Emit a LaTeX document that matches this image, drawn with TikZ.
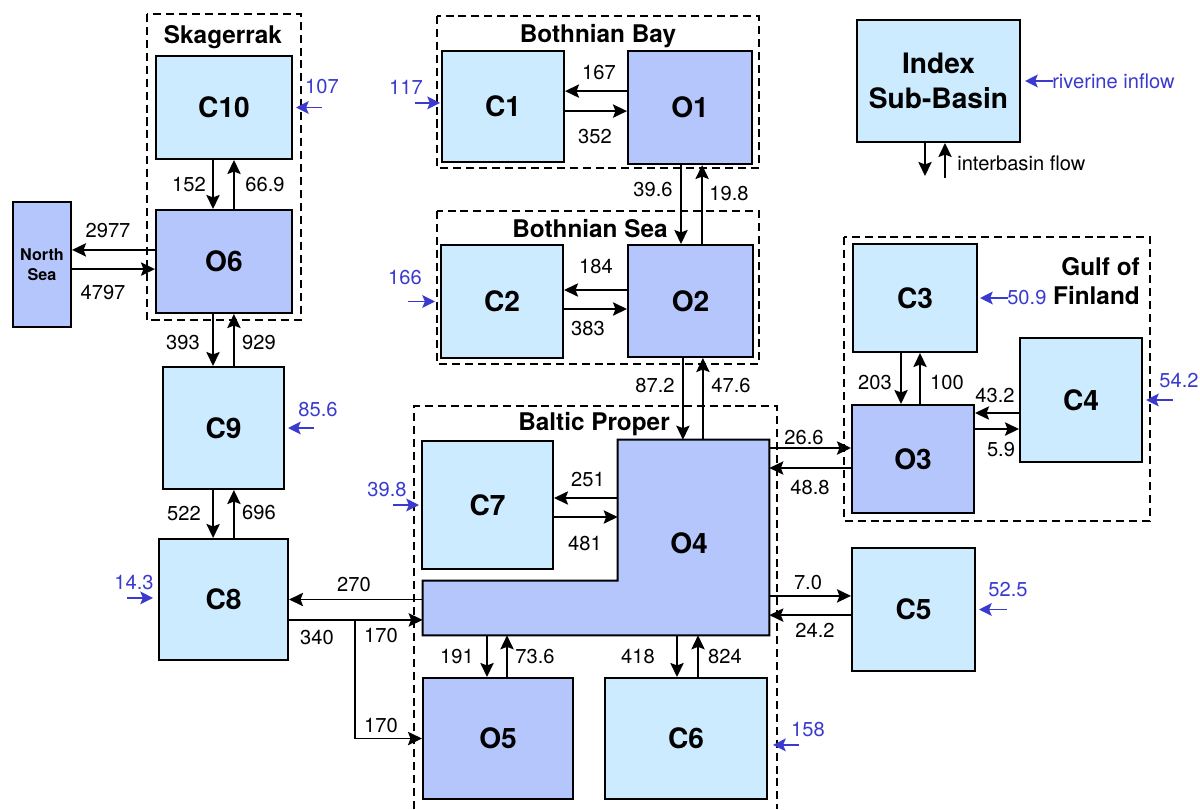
\documentclass[tikz,border=0pt]{standalone}
\usepackage{fontspec}
\setmainfont{TeX Gyre Heros}
\usetikzlibrary{arrows.meta}

\definecolor{coastfill}{RGB}{204,235,254}
\definecolor{offfill}{RGB}{180,198,252}
\definecolor{riverblue}{RGB}{58,58,208}

\begin{document}
\begin{tikzpicture}[
  x=0.025cm, y=-0.025cm,
  coastal/.style={rectangle, draw, line width=1.4pt, fill=coastfill, inner sep=0pt, align=center, font=\fontsize{20}{25}\selectfont\bfseries},
  offshore/.style={coastal, fill=offfill},
  ghost/.style={rectangle, inner sep=0pt},
  area/.style={draw, line width=1.3pt, dash pattern=on 5.7pt off 3.5pt},
  areatitle/.style={font=\fontsize{17.3}{20.6}\selectfont\bfseries, inner sep=0pt},
  flow/.style={-{Stealth[length=10pt,width=9.5pt,inset=1.8pt]}, line width=1.2pt},
  inflow/.style={-{Stealth[length=9pt,width=9pt,inset=1.8pt]}, line width=1.4pt, draw=riverblue},
  flowlabel/.style={font=\fontsize{14.3}{17}\selectfont, inner sep=0pt, text height=10pt, text depth=0pt},
  riverlabel/.style={flowlabel, text=riverblue}
]
  \useasboundingbox (0,0) rectangle (1200,809);

  % Dashed sub-basin groups
  \draw[area] (147,14) rectangle (301,320);
  \draw[area] (437,16) rectangle (759,168);
  \draw[area] (437,211) rectangle (759,364);
  \draw[area] (844,237) rectangle (1150,521);
  \draw[area] (414,809) |- (777,406) -- (777,809);

  \node[areatitle, anchor=base] (tSkag) at (223,43) {Skagerrak};
  \node[areatitle, anchor=base] (tBay) at (598,42) {Bothnian Bay};
  \node[areatitle, anchor=base] (tSea) at (590,237) {Bothnian Sea};
  \node[areatitle, anchor=base] (tBP) at (594,430) {Baltic Proper};
  \node[areatitle, align=right, anchor=north east] (tGoF) at (1140,257) {Gulf of\\Finland};

  % Skagerrak and Kattegat chain -- left column
  \node[coastal, minimum width=3.4cm, minimum height=2.575cm] (C10) at (224,107.5) {C10};
  \node[offshore, minimum width=3.4cm, minimum height=2.575cm] (O6) at (224,261.5) {O6};
  \node[offshore, font=\fontsize{11.5}{14.2}\selectfont\bfseries, minimum width=1.45cm, minimum height=3.125cm] (NS) at (42,264.5) {North\\Sea};
  \node[coastal, minimum width=3.025cm, minimum height=3.05cm] (C9) at (223.5,428) {C9};
  \node[coastal, minimum width=3.225cm, minimum height=3.025cm] (C8) at (223.5,599.5) {C8};

  % Bothnian Bay and Bothnian Sea
  \node[coastal, minimum width=3.05cm, minimum height=2.775cm] (C1) at (503,106.5) {C1};
  \node[offshore, minimum width=3.1cm, minimum height=2.825cm] (O1) at (690,107.5) {O1};
  \node[coastal, minimum width=3.05cm, minimum height=2.825cm] (C2) at (502,301.5) {C2};
  \node[offshore, minimum width=3.125cm, minimum height=2.8cm] (O2) at (690.5,301) {O2};

  % Legend
  \node[coastal, minimum width=4.075cm, minimum height=3.05cm] (Index) at (938.5,81) {Index\\Sub-Basin};
  \coordinate (legout) at (925,176);
  \coordinate (legin) at (945,178);

  % Gulf of Finland and C5
  \node[coastal, minimum width=3.1cm, minimum height=2.7cm] (C3) at (915,298) {C3};
  \node[offshore, minimum width=3.05cm, minimum height=2.7cm] (O3) at (913,459) {O3};
  \node[coastal, minimum width=3.05cm, minimum height=3.1cm] (C4) at (1081,400) {C4};
  \node[coastal, minimum width=3.075cm, minimum height=3.075cm] (C5) at (913.5,609.5) {C5};

  % Baltic Proper -- O4 is L-shaped
  \node[coastal, minimum width=3.275cm, minimum height=3.2cm] (C7) at (487.5,505) {C7};
  \node[offshore, minimum width=3.75cm, minimum height=3.025cm] (O5) at (498,738.5) {O5};
  \node[coastal, minimum width=4.05cm, minimum height=3.025cm] (C6) at (686,738.5) {C6};
  \node[ghost, minimum width=3.775cm, minimum height=4.875cm] (O4) at (693.5,537.5) {};
  \node[ghost, minimum width=8.65cm, minimum height=1.35cm] (O4bar) at (596,608) {};
  \filldraw[line width=1.4pt, fill=offfill] (O4.north west) -- (O4.north east) -- (O4bar.south east) -- (O4bar.south west) -- (O4bar.north west) -- (O4bar.north west -| O4.west) -- cycle;
  \node[font=\fontsize{20}{25}\selectfont\bfseries, inner sep=0pt] (O4name) at (689,543) {O4};

  % Interbasin flows, left column
  \draw[flow] ([xshift=-0.275cm]C10.south) -- ([xshift=-0.275cm]C10.south |- O6.north);
  \draw[flow] ([xshift=0.25cm]O6.north) -- ([xshift=0.25cm]O6.north |- C10.south);
  \draw[flow] ([yshift=0.29cm]O6.west) -- ([yshift=0.29cm]O6.west -| NS.east);
  \draw[flow] ([yshift=-0.19cm]O6.west -| NS.east) -- ([yshift=-0.19cm]O6.west);
  \draw[flow] ([xshift=-0.275cm]O6.south) -- ([xshift=-0.275cm]O6.south |- C9.north);
  \draw[flow] ([xshift=0.26cm]C9.north) -- ([xshift=0.26cm]C9.north |- O6.south);
  \draw[flow] ([xshift=-0.26cm]C9.south) -- ([xshift=-0.26cm]C9.south |- C8.north);
  \draw[flow] ([xshift=0.26cm]C8.north) -- ([xshift=0.26cm]C8.north |- C9.south);

  % Interbasin flows, Bothnian Bay / Sea
  \draw[flow] ([yshift=0.41cm]O1.west) -- ([yshift=0.41cm]O1.west -| C1.east);
  \draw[flow] ([yshift=-0.09cm]O1.west -| C1.east) -- ([yshift=-0.09cm]O1.west);
  \draw[flow] ([xshift=-0.225cm]O1.south) -- ([xshift=-0.225cm]O1.south |- O2.north);
  \draw[flow] ([xshift=0.29cm]O2.north) -- ([xshift=0.29cm]O2.north |- O1.south);
  \draw[flow] ([yshift=0.275cm]O2.west) -- ([yshift=0.275cm]O2.west -| C2.east);
  \draw[flow] ([yshift=-0.2cm]O2.west -| C2.east) -- ([yshift=-0.2cm]O2.west);
  \draw[flow] ([xshift=-0.19cm]O2.south) -- ([xshift=-0.19cm]O2.south |- O4.north);
  \draw[flow] ([xshift=0.31cm]O2.south |- O4.north) -- ([xshift=0.31cm]O2.south);

  % Interbasin flows, Baltic Proper
  \draw[flow] ([yshift=0.175cm]C7.east -| O4.west) -- ([yshift=0.175cm]C7.east);
  \draw[flow] ([yshift=-0.3cm]C7.east) -- ([yshift=-0.3cm]C7.east -| O4.west);
  \draw[flow] (C8.east -| O4bar.west) -- (C8.east);
  \draw[flow] ([yshift=-0.51cm]C8.east) -- ([yshift=-0.51cm]C8.east -| O4bar.west);
  \draw[flow] ([xshift=1.65cm, yshift=-0.51cm]C8.east) |- (O5.west);
  \draw[flow] ([xshift=-0.275cm]O5.north |- O4bar.south) -- ([xshift=-0.275cm]O5.north);
  \draw[flow] ([xshift=0.225cm]O5.north) -- ([xshift=0.225cm]O5.north |- O4bar.south);
  \draw[flow] ([xshift=-0.225cm]C6.north |- O4bar.south) -- ([xshift=-0.225cm]C6.north);
  \draw[flow] ([xshift=0.3cm]C6.north) -- ([xshift=0.3cm]C6.north |- O4bar.south);

  % Interbasin flows, Gulf of Finland and C5
  \draw[flow] ([yshift=0.275cm]O3.west -| O4.east) -- ([yshift=0.275cm]O3.west);
  \draw[flow] ([yshift=-0.225cm]O3.west) -- ([yshift=-0.225cm]O3.west -| O4.east);
  \draw[flow] ([xshift=-0.3cm]O3.north |- C3.south) -- ([xshift=-0.3cm]O3.north);
  \draw[flow] ([xshift=0.175cm]O3.north) -- ([xshift=0.175cm]O3.north |- C3.south);
  \draw[flow] ([yshift=-0.325cm]C4.west) -- ([yshift=-0.325cm]C4.west -| O3.east);
  \draw[flow] ([yshift=-0.725cm]C4.west -| O3.east) -- ([yshift=-0.725cm]C4.west);
  \draw[flow] ([yshift=0.34cm]C5.west -| O4.east) -- ([yshift=0.34cm]C5.west);
  \draw[flow] ([yshift=-0.14cm]C5.west) -- ([yshift=-0.14cm]C5.west -| O4.east);

  % Legend arrows
  \draw[flow] (Index.south -| legout) -- (legout);
  \draw[flow] (legin) -- (legin |- Index.south);

  % Riverine inflows
  \draw[inflow] ([xshift=0.725cm]C10.east) -- ([xshift=0.075cm]C10.east);
  \draw[inflow] ([xshift=-0.65cm,yshift=0.09cm]C1.west) -- ([xshift=-0.025cm,yshift=0.09cm]C1.west);
  \draw[inflow] ([xshift=-0.8cm]C2.west) -- ([xshift=-0.125cm]C2.west);
  \draw[inflow] ([xshift=0.725cm]C9.east) -- ([xshift=0.075cm]C9.east);
  \draw[inflow] ([xshift=-0.775cm,yshift=0.04cm]C8.west) -- ([xshift=-0.125cm,yshift=0.04cm]C8.west);
  \draw[inflow] ([xshift=-0.7cm]C7.west) -- ([xshift=-0.05cm]C7.west);
  \draw[inflow] ([xshift=0.775cm,yshift=-0.16cm]C6.east) -- ([xshift=0.125cm,yshift=-0.16cm]C6.east);
  \draw[inflow] ([xshift=0.775cm]C5.east) -- ([xshift=0.075cm]C5.east);
  \draw[inflow] ([xshift=0.75cm]C3.east) -- ([xshift=0.05cm]C3.east);
  \draw[inflow] ([xshift=0.75cm]C4.east) -- ([xshift=0.075cm]C4.east);
  \draw[inflow] ([xshift=0.8cm]Index.east) -- ([xshift=0.1cm]Index.east);

  % Inflow labels
  \node[riverlabel] (q10) at (322,86) {107};
  \node[riverlabel] (q1) at (406,87) {117};
  \node[riverlabel] (q2) at (405,277) {166};
  \node[riverlabel] (q9) at (318,409) {85.6};
  \node[riverlabel] (q8) at (134,582) {14.3};
  \node[riverlabel] (q7) at (387,489) {39.8};
  \node[riverlabel] (q6) at (808,729) {158};
  \node[riverlabel] (q5) at (1008,589) {52.5};
  \node[riverlabel, anchor=west] (q3) at (1007,297) {50.9};
  \node[riverlabel] (q4) at (1179,380) {54.2};
  \node[riverlabel, anchor=west] (qkey) at (1052,81) {riverine inflow};

  % Flow labels
  \node[flowlabel, anchor=west] (fkey) at (957,163) {interbasin flow};
  \node[flowlabel] (f152) at (189,184) {152};
  \node[flowlabel] (f669) at (265,184) {66.9};
  \node[flowlabel] (f2977) at (108,230) {2977};
  \node[flowlabel] (f4797) at (103,292) {4797};
  \node[flowlabel] (f393) at (183,342) {393};
  \node[flowlabel] (f929) at (259,342) {929};
  \node[flowlabel] (f522) at (184,513) {522};
  \node[flowlabel] (f696) at (259,512) {696};
  \node[flowlabel] (f270) at (354,584) {270};
  \node[flowlabel] (f340) at (317,637) {340};
  \node[flowlabel] (f170a) at (381,635) {170};
  \node[flowlabel] (f170b) at (381,725) {170};
  \node[flowlabel] (f167) at (599,72) {167};
  \node[flowlabel] (f352) at (595,136) {352};
  \node[flowlabel] (f396) at (653,189) {39.6};
  \node[flowlabel] (f198) at (729,193) {19.8};
  \node[flowlabel] (f184) at (596,266) {184};
  \node[flowlabel] (f383) at (588,328) {383};
  \node[flowlabel] (f872) at (655,385) {87.2};
  \node[flowlabel] (f476) at (731,385) {47.6};
  \node[flowlabel] (f251) at (588,479) {251};
  \node[flowlabel] (f481) at (585,543) {481};
  \node[flowlabel] (f191) at (457,656) {191};
  \node[flowlabel] (f736) at (535,656) {73.6};
  \node[flowlabel] (f418) at (638,656) {418};
  \node[flowlabel] (f824) at (725,656) {824};
  \node[flowlabel] (f266) at (804,437) {26.6};
  \node[flowlabel] (f488) at (810,487) {48.8};
  \node[flowlabel] (f70) at (808,582) {7.0};
  \node[flowlabel] (f242) at (815,630) {24.2};
  \node[flowlabel] (f203) at (875,382) {203};
  \node[flowlabel] (f100) at (947,382) {100};
  \node[flowlabel] (f432) at (995,395) {43.2};
  \node[flowlabel] (f59) at (1001,449) {5.9};
\end{tikzpicture}
\end{document}
